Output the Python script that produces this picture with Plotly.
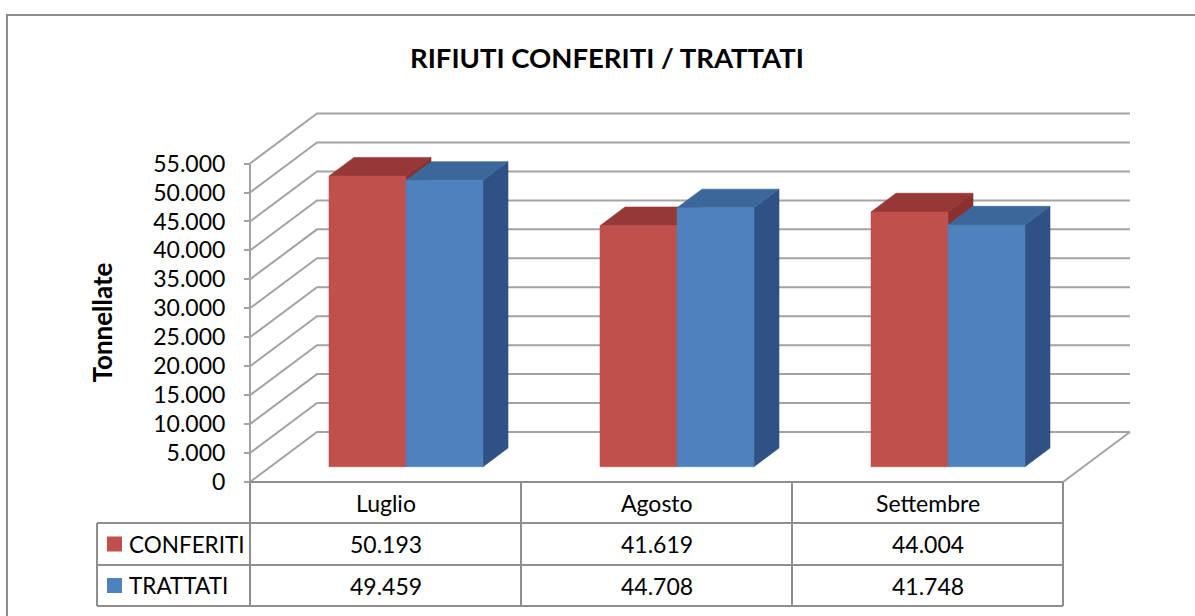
import plotly.graph_objects as go

# ---------------- data ----------------
categories = ["Luglio", "Agosto", "Settembre"]
series_names = ["CONFERITI", "TRATTATI"]
conferiti = [50193, 41619, 44004]
trattati = [49459, 44708, 41748]
y_ticks = [0, 5000, 10000, 15000, 20000, 25000, 30000, 35000, 40000, 45000, 50000, 55000]

series_values = [conferiti, trattati]
front_colors = ["#C0504D", "#4F81BD"]
top_colors = ["#963835", "#3C679B"]
side_colors = ["#8A302D", "#2F5183"]

# ---------------- layout geometry (pixels) ----------------
W, H = 1195, 616
X0_PX = 250.0          # left edge of category area (x = -0.5)
COL_W = 271.0          # one category column width in px
Y0_PX = 482.0          # value 0 on the front plane
K = 28.95 / 5000.0     # px per tonne

def xd(px):
    return -0.5 + (px - X0_PX) / COL_W

def yd(py):
    return (Y0_PX - py) / K

def dxu(px):
    return px / COL_W

def dyu(px):
    return px / K

WALL_DX, WALL_DY = dxu(67), dyu(50)
BAR_FX, BAR_FY = dxu(20.5), dyu(15.3)
BAR_DX, BAR_DY = dxu(25), dyu(18.7)
BAR_W = dxu(77)

GRID = "#A3A3A3"
TABLE = "#8E8E8E"
FONT = "Lato"

fig = go.Figure()
shapes = []

# back wall gridlines + left wall diagonals
n = len(categories)
x_left, x_right = -0.5, n - 0.5
for t in y_ticks:
    shapes.append(dict(type="path", xref="x", yref="y", layer="below",
                       path=f"M {x_left} {t} L {x_left + WALL_DX} {t + WALL_DY} L {x_right + WALL_DX} {t + WALL_DY}",
                       line=dict(color=GRID, width=2)))
# front-left vertical axis line
shapes.append(dict(type="line", xref="x", yref="y", layer="below",
                   x0=x_left, x1=x_left, y0=0, y1=y_ticks[-1], line=dict(color=GRID, width=2)))
# floor right edge
shapes.append(dict(type="line", xref="x", yref="y", layer="below",
                   x0=x_right, y0=0, x1=x_right + WALL_DX, y1=WALL_DY, line=dict(color=GRID, width=2)))

# ---------------- bars (pseudo-3D) ----------------
def poly(xs, ys, color):
    fig.add_trace(go.Scatter(x=xs + [xs[0]], y=ys + [ys[0]], mode="lines", fill="toself",
                             fillcolor=color, line=dict(color=color, width=0.6),
                             hoverinfo="skip", showlegend=False))

for i in range(n):
    for s, vals in enumerate(series_values):
        v = vals[i]
        x0 = i + BAR_FX - BAR_W + s * BAR_W
        x1 = x0 + BAR_W
        b = BAR_FY
        tp = BAR_FY + v
        # side
        poly([x1, x1 + BAR_DX, x1 + BAR_DX, x1], [b, b + BAR_DY, tp + BAR_DY, tp], side_colors[s])
        # top
        poly([x0, x1, x1 + BAR_DX, x0 + BAR_DX], [tp, tp, tp + BAR_DY, tp + BAR_DY], top_colors[s])
        # front
        poly([x0, x1, x1, x0], [b, b, tp, tp], front_colors[s])

# ---------------- data table ----------------
tbl_left = xd(97)
y_hdr_top, y_r1, y_r2, y_bot = yd(482), yd(523), yd(565), yd(606)
for yy, xa in [(y_hdr_top, x_left), (y_r1, tbl_left), (y_r2, tbl_left), (y_bot, tbl_left)]:
    shapes.append(dict(type="line", xref="x", yref="y", x0=xa, x1=x_right, y0=yy, y1=yy,
                       line=dict(color=TABLE, width=2)))
for j in range(n + 1):
    xx = -0.5 + j
    shapes.append(dict(type="line", xref="x", yref="y", x0=xx, x1=xx, y0=y_hdr_top, y1=y_bot,
                       line=dict(color=TABLE, width=2)))
shapes.append(dict(type="line", xref="x", yref="y", x0=tbl_left, x1=tbl_left, y0=y_r1, y1=y_bot,
                   line=dict(color=TABLE, width=2)))

annotations = []
hdr_y = yd(502.5)
row_y = [yd(544), yd(585.5)]
for i, c in enumerate(categories):
    annotations.append(dict(x=i, y=hdr_y, xref="x", yref="y", text=c, showarrow=False,
                            font=dict(family=FONT, size=23, color="#000")))
def fmt(v):
    return f"{v:,}".replace(",", ".")
for s, vals in enumerate(series_values):
    for i, v in enumerate(vals):
        annotations.append(dict(x=i, y=row_y[s], xref="x", yref="y", text=fmt(v), showarrow=False,
                                font=dict(family=FONT, size=23, color="#000")))
    annotations.append(dict(x=xd(127), y=row_y[s], xref="x", yref="y", text=series_names[s],
                            showarrow=False, xanchor="left",
                            font=dict(family=FONT, size=22.5, color="#000")))
    shapes.append(dict(type="rect", xref="x", yref="y", x0=xd(107), x1=xd(122),
                       y0=row_y[s] - dyu(7.5), y1=row_y[s] + dyu(7.5),
                       fillcolor=front_colors[s], line=dict(width=0)))

# title and axis title
annotations.append(dict(x=xd(607), y=yd(57), xref="x", yref="y", text="<b>RIFIUTI CONFERITI / TRATTATI</b>",
                        showarrow=False, font=dict(family=FONT, size=27.5, color="#000")))
annotations.append(dict(x=xd(101), y=yd(322.5), xref="x", yref="y", text="<b>Tonnellate</b>",
                        textangle=-90, showarrow=False, font=dict(family=FONT, size=26, color="#000")))

# outer chart border
shapes.append(dict(type="rect", xref="paper", yref="paper", x0=7 / W, x1=1.01, y0=-0.05, y1=1 - 15 / H,
                   line=dict(color="#8C8C8C", width=2), fillcolor="rgba(0,0,0,0)", layer="below"))

fig.update_layout(
    width=W, height=H,
    margin=dict(l=0, r=0, t=0, b=0),
    paper_bgcolor="white", plot_bgcolor="white",
    separators=",.",
    showlegend=False,
    shapes=shapes, annotations=annotations,
    xaxis=dict(range=[xd(0), xd(W)], visible=False, fixedrange=True),
    yaxis=dict(range=[yd(H), yd(0)], anchor="free", position=X0_PX / W, side="left",
               showgrid=False, zeroline=False, showline=False,
               ticks="outside", ticklen=6, tickwidth=2, tickcolor=GRID,
               tickvals=y_ticks, tickformat=",.0f", ticklabelstandoff=14,
               tickfont=dict(family=FONT, size=23, color="#000"), fixedrange=True),
)

fig.write_html("out.html", config={"displayModeBar": False},
               post_script="document.body.style.margin='0';document.body.style.overflow='hidden';")
